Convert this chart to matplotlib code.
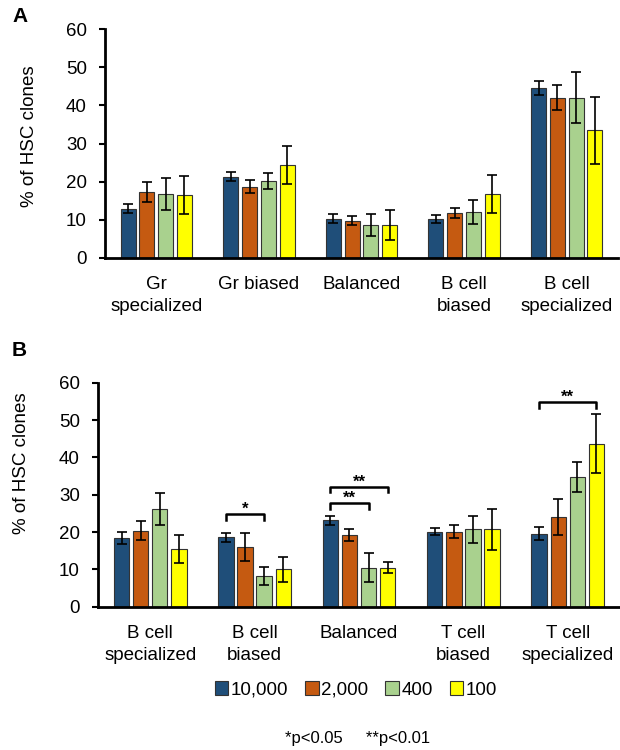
import matplotlib
matplotlib.use("Agg")
import matplotlib.pyplot as plt
import numpy as np
from matplotlib.patches import Patch

plt.rcParams['font.family'] = ['Liberation Sans', 'DejaVu Sans']

series_labels = ["10,000", "2,000", "400", "100"]
colors = ["#1F4E79", "#C55A11", "#A9D18E", "#FFFF00"]

cats_a = ["Gr\nspecialized", "Gr biased", "Balanced", "B cell\nbiased", "B cell\nspecialized"]
vals_a = [
    [12.9, 21.3, 10.3, 10.3, 44.5],
    [17.3, 18.7, 9.8, 11.7, 42.0],
    [16.8, 20.2, 8.6, 12.1, 42.0],
    [16.4, 24.3, 8.6, 16.7, 33.5],
]
errs_a = [
    [1.2, 1.2, 1.2, 1.0, 1.9],
    [2.6, 1.7, 1.1, 1.3, 3.3],
    [4.2, 2.0, 2.8, 3.2, 6.7],
    [5.0, 5.0, 4.0, 5.0, 8.8],
]

cats_b = ["B cell\nspecialized", "B cell\nbiased", "Balanced", "T cell\nbiased", "T cell\nspecialized"]
vals_b = [
    [18.3, 18.6, 23.1, 20.1, 19.6],
    [20.4, 16.0, 19.3, 20.1, 24.0],
    [26.1, 8.3, 10.4, 20.7, 34.7],
    [15.4, 10.0, 10.4, 20.7, 43.7],
]
errs_b = [
    [1.6, 1.25, 1.2, 1.0, 1.8],
    [2.5, 3.75, 1.6, 1.8, 4.8],
    [4.3, 2.4, 3.9, 3.6, 4.0],
    [3.75, 3.3, 1.5, 5.6, 8.0],
]

# significance brackets: (category index, series from, series to, bracket height, label)
brackets_b = [
    (1, 0, 2, 24.7, "*"),
    (2, 0, 2, 27.7, "**"),
    (2, 0, 3, 32.1, "**"),
    (4, 0, 3, 54.8, "**"),
]

fig = plt.figure(figsize=(6.2, 7.5), dpi=100)

pitch = 0.183
width = 0.147


def draw_panel(ax, cats, vals, errs):
    x = np.arange(len(cats))
    for i in range(4):
        ax.bar(x + (i - 1.5) * pitch, vals[i], width, color=colors[i],
               edgecolor="#333333", linewidth=0.8,
               yerr=errs[i], capsize=3.3,
               error_kw=dict(ecolor="black", elinewidth=1.2, capthick=1.2), zorder=2)
    ax.set_xlim(-0.5, len(cats) - 0.5)
    ax.set_ylim(0, 60)
    ax.set_yticks(range(0, 61, 10))
    ax.set_xticks(x)
    ax.set_xticklabels(cats, fontsize=13.5, linespacing=1.4)
    ax.tick_params(axis='x', length=0, pad=13)
    ax.tick_params(axis='y', labelsize=13.5, length=4, width=1.5, direction='out', pad=9)
    for s in ['top', 'right']:
        ax.spines[s].set_visible(False)
    for s in ['left', 'bottom']:
        ax.spines[s].set_linewidth(2)
    ax.set_ylabel("% of HSC clones", fontsize=13.5)
    return x


axA = fig.add_axes([105 / 620, 1 - 258 / 750, 513 / 620, 229 / 750])
draw_panel(axA, cats_a, vals_a, errs_a)
axA.yaxis.set_label_coords(-0.13, 0.53)

axB = fig.add_axes([98 / 620, 1 - 606.7 / 750, 522 / 620, 224 / 750])
xb = draw_panel(axB, cats_b, vals_b, errs_b)
axB.yaxis.set_label_coords(-0.13, 0.64)

for ci, s0, s1, h, lab in brackets_b:
    x0 = xb[ci] + (s0 - 1.5) * pitch
    x1 = xb[ci] + (s1 - 1.5) * pitch
    axB.plot([x0, x0, x1, x1], [h - 1.5, h, h, h - 1.5], color="black", lw=1.8,
             clip_on=False, zorder=3)
    axB.text((x0 + x1) / 2, h + 0.1, lab, ha='center', va='baseline', fontsize=12,
             fontweight='bold')

fig.text(12 / 620, 1 - 16 / 750, "A", fontsize=15, fontweight='bold', va='center', ha='left')
fig.text(12 / 620, 1 - 350 / 750, "B", fontsize=15, fontweight='bold', va='center', ha='left')

handles = [Patch(facecolor=c, edgecolor="#333333", linewidth=0.8) for c in colors]
fig.legend(handles, series_labels, loc='center', bbox_to_anchor=(356 / 620, 1 - 690 / 750),
           ncol=4, frameon=False, fontsize=13.5, handlelength=0.7, handleheight=0.7,
           handletextpad=0.15, columnspacing=0.9)

fig.text(358 / 620, 1 - 738 / 750, "*p<0.05     **p<0.01", fontsize=12, ha='center', va='center')

fig.savefig("out.png", dpi=100)
